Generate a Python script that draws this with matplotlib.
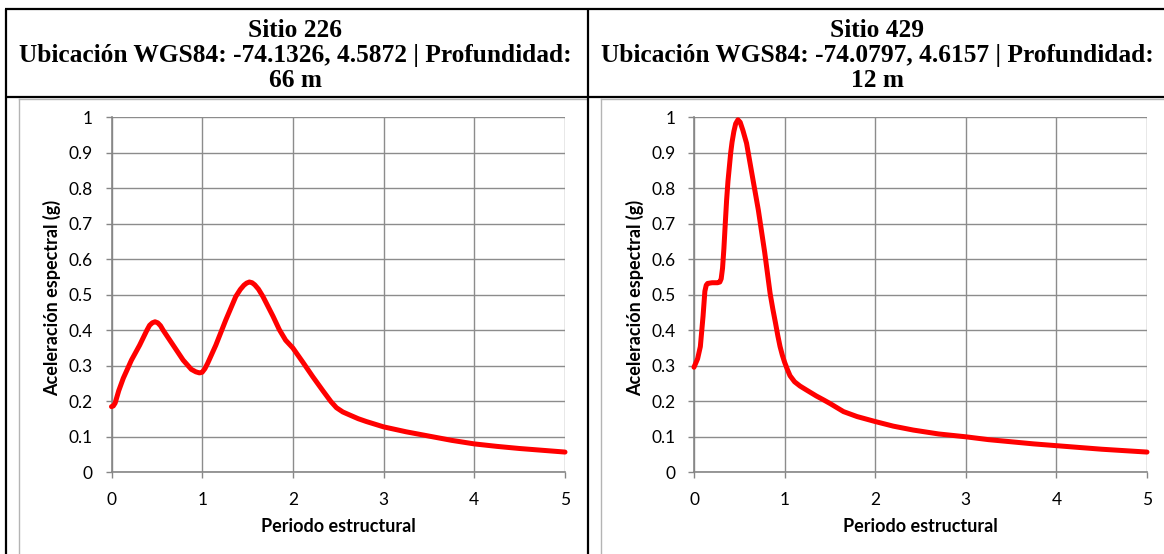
import matplotlib
matplotlib.use("Agg")
import matplotlib.pyplot as plt

W, H = 1164, 554

# espectros de respuesta leidos por sitio (periodo en s, Sa en g)
periodo_226 = [0.0, 0.02, 0.04, 0.08, 0.13, 0.22, 0.31, 0.39, 0.42, 0.45, 0.48,
               0.51, 0.54, 0.57, 0.68, 0.79, 0.88, 0.93, 0.97, 1.0, 1.03, 1.06,
               1.15, 1.26, 1.37, 1.42, 1.46, 1.49, 1.52, 1.55, 1.58, 1.62, 1.67,
               1.78, 1.85, 1.92, 2.0, 2.11, 2.22, 2.33, 2.42, 2.48, 2.55, 2.63, 2.72,
               2.81, 3.0, 3.25, 3.5, 3.75, 4.0, 4.25, 4.5, 4.75, 5.0]
sa_226 = [0.185, 0.187, 0.195, 0.23, 0.265, 0.316, 0.358, 0.40, 0.414, 0.421, 0.424,
          0.421, 0.413, 0.40, 0.358, 0.316, 0.29, 0.283, 0.28, 0.282, 0.292, 0.307,
          0.358, 0.429, 0.495, 0.515, 0.527, 0.533, 0.536, 0.534, 0.528, 0.516, 0.495,
          0.44, 0.402, 0.372, 0.350, 0.310, 0.269, 0.23, 0.199, 0.182, 0.170, 0.161, 0.151,
          0.143, 0.128, 0.114, 0.102, 0.09, 0.080, 0.073, 0.067, 0.062, 0.057]

periodo_429 = [0.0, 0.04, 0.07, 0.10, 0.12, 0.135, 0.15, 0.2, 0.26, 0.285, 0.30,
               0.315, 0.33, 0.345, 0.36, 0.375, 0.39, 0.405, 0.42, 0.44, 0.46, 0.485,
               0.51, 0.54, 0.58, 0.64, 0.71, 0.78, 0.84, 0.87, 0.90, 0.925, 0.95,
               0.975, 1.0, 1.03, 1.06, 1.11, 1.17, 1.24, 1.35, 1.43, 1.5, 1.65, 1.8,
               2.0, 2.2, 2.42, 2.7, 3.0, 3.25, 3.5, 3.75, 4.0, 4.25, 4.5, 4.75, 5.0]
sa_429 = [0.296, 0.32, 0.354, 0.44, 0.51, 0.527, 0.532, 0.534, 0.534, 0.536, 0.545,
          0.575, 0.63, 0.70, 0.767, 0.82, 0.86, 0.90, 0.93, 0.96, 0.982, 0.993,
          0.986, 0.963, 0.927, 0.84, 0.739, 0.62, 0.504, 0.46, 0.42, 0.385, 0.354,
          0.33, 0.31, 0.29, 0.272, 0.255, 0.243, 0.232, 0.215, 0.204, 0.194, 0.171, 0.157,
          0.143, 0.13, 0.119, 0.108, 0.100, 0.092, 0.086, 0.08, 0.075, 0.07, 0.065, 0.061, 0.057]

titulos_226 = ["Sitio 226", "Ubicación WGS84: -74.1326, 4.5872 | Profundidad:", "66 m"]
titulos_429 = ["Sitio 429", "Ubicación WGS84: -74.0797, 4.6157 | Profundidad:", "12 m"]

x_ticks = [0, 1, 2, 3, 4, 5]
y_ticks = [0, 0.1, 0.2, 0.3, 0.4, 0.5, 0.6, 0.7, 0.8, 0.9, 1.0]
y_tick_labels = ["0", "0.1", "0.2", "0.3", "0.4", "0.5", "0.6", "0.7", "0.8", "0.9", "1"]

xlabel = "Periodo estructural"
ylabel = "Aceleración espectral (g)"

GRID = "#8c8c8c"
SANS = ["Lato", "DejaVu Sans"]
SERIF = ["Liberation Serif", "DejaVu Serif"]

fig = plt.figure(figsize=(W / 100, H / 100), dpi=100)

# capa de fondo en pixeles: tabla y rotulos
bg = fig.add_axes([0, 0, 1, 1])
bg.set_xlim(0, W)
bg.set_ylim(H, 0)
bg.axis("off")

# bordes grises de los graficos
bg.plot([19, 19], [99, H], color="#b4b4b4", lw=1.0)
bg.plot([19, 586], [99, 99], color="#b4b4b4", lw=1.0)
bg.plot([601, 601], [99, H], color="#b4b4b4", lw=1.0)
bg.plot([601, W], [99, 99], color="#b4b4b4", lw=1.0)

# lineas de la tabla
for y in (9, 97):
    bg.plot([5, W], [y, y], color="black", lw=1.6, solid_capstyle="butt")
for x in (5.5, 587.5):
    bg.plot([x, x], [9, H], color="black", lw=1.6, solid_capstyle="butt")

baselines = [37, 62, 87]
for cx, lineas in ((295.5, titulos_226), (877.5, titulos_429)):
    for yb, t in zip(baselines, lineas):
        bg.text(cx, yb, t, ha="center", va="baseline", fontsize=18.3,
                fontweight="bold", family=SERIF)


def panel(x0, x1, periodo, sa, ylab_x, xlab_x):
    ytop, ybot = 117.3, 472.3
    ax = fig.add_axes([x0 / W, 1 - ybot / H, (x1 - x0) / W, (ybot - ytop) / H])
    ax.patch.set_alpha(0)
    ax.plot(periodo, sa, color="#ff0000", lw=3.6, solid_joinstyle="round",
            solid_capstyle="round", zorder=3, clip_on=False)
    ax.set_xlim(0, 5)
    ax.set_ylim(0, 1)
    ax.set_xticks(x_ticks)
    ax.set_yticks(y_ticks)
    ax.set_yticklabels(y_tick_labels)
    ax.grid(True, color=GRID, lw=1.0)
    ax.set_axisbelow(True)
    for s in ("top", "right"):
        ax.spines[s].set_visible(False)
    for s in ("left", "bottom"):
        ax.spines[s].set_color("#868686")
        ax.spines[s].set_linewidth(1.2)
    ax.tick_params(direction="out", length=4.5, width=1.0, color="#868686",
                   labelsize=12.5, labelcolor="black")
    ax.tick_params(axis="y", pad=9)
    ax.tick_params(axis="x", pad=10)
    for lab in ax.get_xticklabels() + ax.get_yticklabels():
        lab.set_family(SANS)
    bg.text(ylab_x, 298, ylabel, rotation=90, ha="center", va="center",
            fontsize=13, fontweight="bold", family=SANS)
    bg.text(xlab_x, 526, xlabel, ha="center", va="center",
            fontsize=13, fontweight="bold", family=SANS)
    return ax


panel(111.5, 565, periodo_226, sa_226, 52, 338)
panel(694, 1147, periodo_429, sa_429, 635, 920)

fig.savefig("out.png", dpi=100)
